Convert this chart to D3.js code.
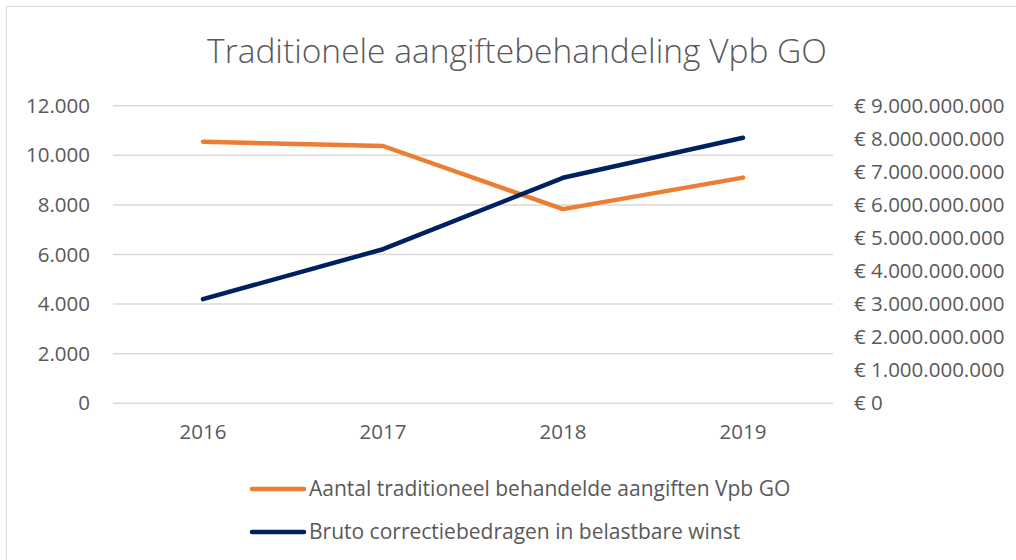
<!DOCTYPE html>
<html>
<head>
<meta charset="utf-8">
<script src="https://cdn.jsdelivr.net/npm/d3@7"></script>
<style>
  body { margin: 0; background: #fff; }
  svg { display: block; font-family: "Open Sans", "Liberation Sans", sans-serif; }
</style>
</head>
<body>
<svg id="viz" width="1016" height="560"></svg>
<script>
const years = ["2016", "2017", "2018", "2019"];
// aantal traditioneel behandelde aangiften (linker as)
const aantal = [10550, 10375, 7830, 9100];
// bruto correctiebedragen in euro (rechter as)
const bedragen = [3.15e9, 4.66e9, 6.82e9, 8.03e9];
const leftTicks = [0, 2000, 4000, 6000, 8000, 10000, 12000];
const rightTicks = [0, 1e9, 2e9, 3e9, 4e9, 5e9, 6e9, 7e9, 8e9, 9e9];
const seriesNames = [
  "Aantal traditioneel behandelde aangiften Vpb GO",
  "Bruto correctiebedragen in belastbare winst"
];
const colors = ["#ED7D31", "#002060"];

const svg = d3.select("#viz");
const m = { left: 113, right: 833, top: 105.7, bottom: 403.3 };

// kader
svg.append("rect")
  .attr("x", 6.5).attr("y", 6.5)
  .attr("width", 1040).attr("height", 600)
  .attr("fill", "#fff")
  .attr("stroke", "#d9d9d9")
  .attr("stroke-width", 1);

svg.append("text")
  .attr("x", 517).attr("y", 63)
  .attr("text-anchor", "middle")
  .attr("fill", "#595959")
  .style("font-size", "33.5px")
  .style("font-weight", 300)
  .text("Traditionele aangiftebehandeling Vpb GO");

const x = d3.scaleBand().domain(years).range([m.left, m.right]);
const yL = d3.scaleLinear().domain([0, 12000]).range([m.bottom, m.top]);
const yR = d3.scaleLinear().domain([0, 9e9]).range([m.bottom, m.top]);

const fmtNL = d3.formatLocale({ decimal: ",", thousands: ".", grouping: [3], currency: ["€ ", ""] });
const fmtL = fmtNL.format(",.0f");
const fmtR = fmtNL.format("$,.0f");

// rasterlijnen
svg.append("g")
  .selectAll("line")
  .data(leftTicks)
  .join("line")
  .attr("x1", m.left).attr("x2", m.right)
  .attr("y1", d => yL(d)).attr("y2", d => yL(d))
  .attr("stroke", "#d9d9d9")
  .attr("stroke-width", 1.5);

// linker as
const axL = svg.append("g")
  .attr("transform", `translate(${m.left - 23},0)`)
  .call(d3.axisLeft(yL).tickValues(leftTicks).tickFormat(fmtL).tickSize(0).tickPadding(0));
axL.select(".domain").remove();
axL.selectAll("text").attr("fill", "#595959").style("font-size", "20.5px")
  .style("font-family", "Open Sans, sans-serif");

// rechter as
const axR = svg.append("g")
  .attr("transform", `translate(${m.right + 21},0)`)
  .call(d3.axisRight(yR).tickValues(rightTicks).tickFormat(fmtR).tickSize(0).tickPadding(0));
axR.select(".domain").remove();
axR.selectAll("text").attr("fill", "#595959").style("font-size", "20.5px")
  .style("font-family", "Open Sans, sans-serif");

// x-as
const axX = svg.append("g")
  .attr("transform", `translate(0,${m.bottom + 19})`)
  .call(d3.axisBottom(x).tickSize(0).tickPadding(0));
axX.select(".domain").remove();
axX.selectAll("text").attr("fill", "#595959").style("font-size", "20.5px")
  .attr("dy", "0.8em")
  .style("font-family", "Open Sans, sans-serif");

const cx = d => x(d) + x.bandwidth() / 2;

const lineL = d3.line().x((d, i) => cx(years[i])).y(d => yL(d));
const lineR = d3.line().x((d, i) => cx(years[i])).y(d => yR(d));

svg.append("path")
  .datum(aantal)
  .attr("d", lineL)
  .attr("fill", "none")
  .attr("stroke", colors[0])
  .attr("stroke-width", 4.5)
  .attr("stroke-linecap", "round")
  .attr("stroke-linejoin", "round");

svg.append("path")
  .datum(bedragen)
  .attr("d", lineR)
  .attr("fill", "none")
  .attr("stroke", colors[1])
  .attr("stroke-width", 4.5)
  .attr("stroke-linecap", "round")
  .attr("stroke-linejoin", "round");

// legenda
const legend = svg.append("g").attr("transform", "translate(252,489)");
seriesNames.forEach((name, i) => {
  const g = legend.append("g").attr("transform", `translate(0,${i * 43})`);
  g.append("line")
    .attr("x1", 0).attr("x2", 52)
    .attr("stroke", colors[i])
    .attr("stroke-width", 4.5)
    .attr("stroke-linecap", "round");
  g.append("text")
    .attr("x", 57).attr("dy", "0.35em")
    .attr("fill", "#595959")
    .style("font-size", "21px")
    .text(name);
});
</script>
</body>
</html>
